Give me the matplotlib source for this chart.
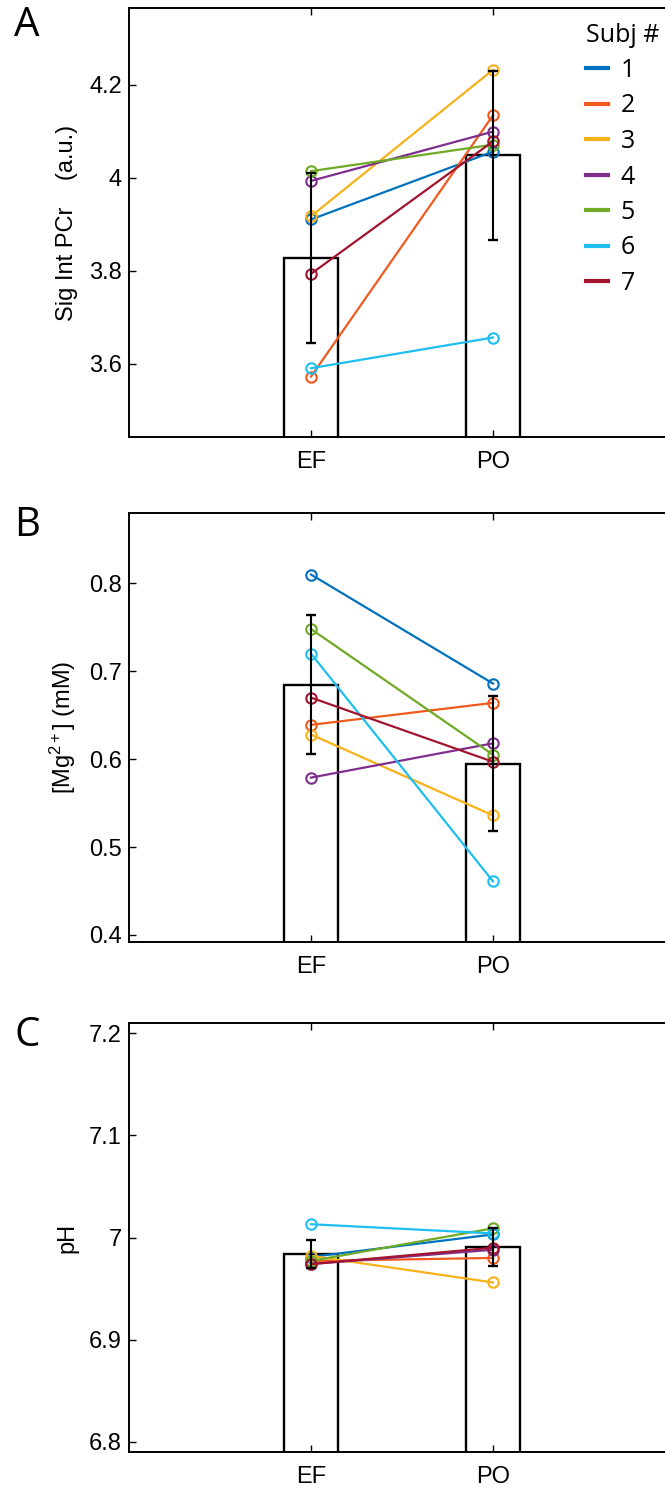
import matplotlib
matplotlib.use("Agg")
import matplotlib.pyplot as plt
from matplotlib.lines import Line2D
import numpy as np

plt.rcParams['font.family'] = ['Liberation Sans', 'DejaVu Sans']
plt.rcParams['mathtext.fontset'] = 'custom'
plt.rcParams['mathtext.rm'] = 'Liberation Sans'
plt.rcParams['mathtext.it'] = 'Liberation Sans:italic'

groups = ["EF", "PO"]
subjects = ["1", "2", "3", "4", "5", "6", "7"]
colors = ["#0072BD", "#F05A1E", "#F7B21A", "#7E2F8E", "#6FAA24", "#1EBFF0", "#A2142F"]

# panel A: signal intensity PCr
pcr_ef = [3.910, 3.572, 3.917, 3.993, 4.014, 3.590, 3.793]
pcr_po = [4.056, 4.134, 4.232, 4.099, 4.071, 3.656, 4.078]
pcr_mean = [3.827, 4.048]
pcr_err = [0.182, 0.182]

# panel B: Mg2+
mg_ef = [0.810, 0.639, 0.628, 0.579, 0.748, 0.720, 0.670]
mg_po = [0.686, 0.664, 0.536, 0.618, 0.605, 0.461, 0.597]
mg_mean = [0.6845, 0.595]
mg_err = [0.079, 0.077]

# panel C: pH
ph_ef = [6.981, 6.977, 6.982, 6.974, 6.977, 7.013, 6.974]
ph_po = [7.003, 6.980, 6.956, 6.988, 7.009, 7.004, 6.990]
ph_mean = [6.984, 6.991]
ph_err = [0.014, 0.0185]

panels = [
    ("A", pcr_ef, pcr_po, pcr_mean, pcr_err, (3.442, 4.365), [3.6, 3.8, 4.0, 4.2],
     ["3.6", "3.8", "4", "4.2"], "Sig Int PCr    (a.u.)"),
    ("B", mg_ef, mg_po, mg_mean, mg_err, (0.392, 0.880), [0.4, 0.5, 0.6, 0.7, 0.8],
     ["0.4", "0.5", "0.6", "0.7", "0.8"], "[Mg$^{2+}$] (mM)"),
    ("C", ph_ef, ph_po, ph_mean, ph_err, (6.79, 7.21), [6.8, 6.9, 7.0, 7.1, 7.2],
     ["6.8", "6.9", "7", "7.1", "7.2"], "pH"),
]

W, H = 665, 1490
fig = plt.figure(figsize=(W / 100, H / 100), dpi=100)

ax_left = 129
ax_w = 546
ax_h = 429
bottoms = [437, 942, 1452]
letter_y = [26, 526, 1036]
x = np.array([1, 2])

for i, (letter, ef, po, mean, err, ylim, yt, ytl, ylab) in enumerate(panels):
    ax = fig.add_axes([ax_left / W, (H - bottoms[i]) / H, ax_w / W, ax_h / H])
    ax.bar(x, mean, width=0.3, color="white", edgecolor="black", linewidth=1.7, zorder=1)
    for j in range(len(subjects)):
        ax.plot(x, [ef[j], po[j]], color=colors[j], lw=1.6, marker="o", ms=7.5,
                mfc="none", mew=1.5, zorder=2)
    ax.errorbar(x, mean, yerr=err, fmt="none", ecolor="black", elinewidth=1.5,
                capsize=3.5, capthick=1.7, zorder=3)
    ax.set_xlim(0, 3)
    ax.set_ylim(*ylim)
    ax.set_xticks(x)
    ax.set_xticklabels(groups)
    ax.set_yticks(yt)
    ax.set_yticklabels(ytl)
    ax.tick_params(direction="in", top=True, right=True, length=5, width=1,
                   labelsize=17, pad=5)
    ax.tick_params(axis="x", pad=10)
    for s in ax.spines.values():
        s.set_linewidth(1.4)
    ax.set_ylabel(ylab, fontsize=17, labelpad=8)
    fig.text(27 / W, 1 - letter_y[i] / H, letter, fontsize=29, family="Open Sans",
             ha="center", va="center")

    if i == 0:
        handles = [Line2D([], [], color=c, lw=3) for c in colors]
        leg = ax.legend(handles, subjects, title="Subj #", frameon=False,
                        loc="upper left", bbox_to_anchor=(568 / W, 1 - 5 / H),
                        bbox_transform=fig.transFigure, handlelength=0.9,
                        handletextpad=0.5, labelspacing=0.42, borderpad=0.2,
                        prop={"family": "Open Sans", "size": 18})
        leg.get_title().set_fontfamily("Open Sans")
        leg.get_title().set_fontsize(18)
        leg._legend_box.align = "left"

fig.savefig("out.png", dpi=100)
